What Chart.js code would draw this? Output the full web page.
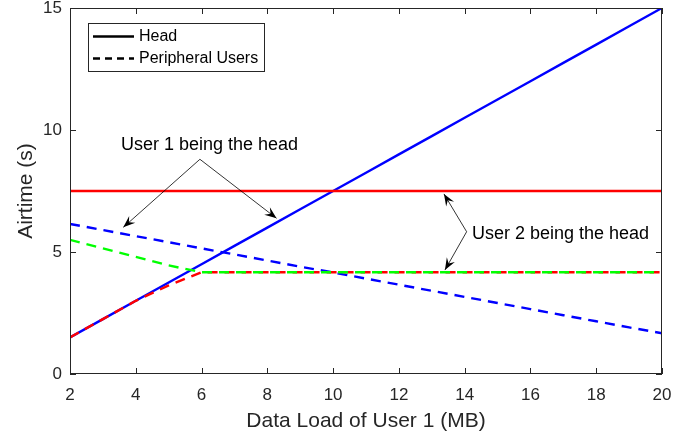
<!DOCTYPE html>
<html>
<head>
<meta charset="utf-8">
<script src="https://cdn.jsdelivr.net/npm/chart.js@4"></script>
<style>
	html, body { margin: 0; padding: 0; background: #fff; }
	#wrap { width: 694px; height: 441px; }
</style>
</head>
<body>
<div id="wrap"><canvas id="airtime-chart" width="694" height="441"></canvas></div>
<script>
// data load of user 1 (MB)
const loads = [2, 3, 4, 5, 6, 7, 8, 9, 10, 11, 12, 13, 14, 15, 16, 17, 18, 19, 20];

// head airtime (solid)
const headUser1 = [1.5, 2.25, 3, 3.75, 4.5, 5.25, 6, 6.75, 7.5, 8.25, 9, 9.75, 10.5, 11.25, 12, 12.75, 13.5, 14.25, 15];
const headUser2 = [7.5, 7.5, 7.5, 7.5, 7.5, 7.5, 7.5, 7.5, 7.5, 7.5, 7.5, 7.5, 7.5, 7.5, 7.5, 7.5, 7.5, 7.5, 7.5];

// peripheral airtime (dashed)
const periphBlue = [6.15, 5.9, 5.65, 5.4, 5.15, 4.9, 4.65, 4.4, 4.16, 3.91, 3.66, 3.41, 3.16, 2.91, 2.66, 2.41, 2.16, 1.91, 1.67];
const periphRed = [1.5, 2.25, 3, 3.63, 4.17, 4.17, 4.17, 4.17, 4.17, 4.17, 4.17, 4.17, 4.17, 4.17, 4.17, 4.17, 4.17, 4.17, 4.17];
const periphGreen = [5.5, 5.15, 4.8, 4.45, 4.17, 4.17, 4.17, 4.17, 4.17, 4.17, 4.17, 4.17, 4.17, 4.17, 4.17, 4.17, 4.17, 4.17, 4.17];

const xTicks = [2, 4, 6, 8, 10, 12, 14, 16, 18, 20];
const yTicks = [0, 5, 10, 15];

const legendLabels = ["Head", "Peripheral Users"];

const colors = {
	axis: "#262626",
	blue: "#0000ff",
	red: "#ff0000",
	green: "#00ff00",
};

const font = "'Liberation Sans', Arial, sans-serif";

// annotations, in data units
const notes = [
	{ text: "User 1 being the head", textAt: [6.24, 9.4], align: "center",
	  from: [5.95, 8.8], tips: [[3.62, 6.01], [8.28, 6.38]] },
	{ text: "User 2 being the head", textAt: [14.22, 5.75], align: "left",
	  from: [14.06, 5.83], tips: [[13.37, 7.38], [13.4, 4.26]] },
];

const toPoints = ys => ys.map((y, i) => ({ x: loads[i], y }));

const drawArrowHead = (ctx, x0, y0, x1, y1) => {
	const ang = Math.atan2(y1 - y0, x1 - x0);
	const len = 12, half = 4.6, back = 7.5;
	ctx.save();
	ctx.translate(x1, y1);
	ctx.rotate(ang);
	ctx.beginPath();
	ctx.moveTo(0, 0);
	ctx.lineTo(-len, -half);
	ctx.lineTo(-back, 0);
	ctx.lineTo(-len, half);
	ctx.closePath();
	ctx.fillStyle = "#000";
	ctx.fill();
	ctx.restore();
};

const matlabFrame = {
	id: "matlabFrame",
	afterDraw(chart) {
		const { ctx, chartArea: a, scales } = chart;
		const x = scales.x, y = scales.y;
		ctx.save();

		// box + inward ticks
		ctx.strokeStyle = colors.axis;
		ctx.lineWidth = 1;
		ctx.strokeRect(a.left + 0.5, a.top + 0.5, a.right - a.left - 1, a.bottom - a.top - 1);
		ctx.beginPath();
		xTicks.forEach(v => {
			const px = Math.round(x.getPixelForValue(v)) + 0.5;
			ctx.moveTo(px, a.bottom); ctx.lineTo(px, a.bottom - 6);
			ctx.moveTo(px, a.top); ctx.lineTo(px, a.top + 6);
		});
		yTicks.forEach(v => {
			const py = Math.round(y.getPixelForValue(v)) + 0.5;
			ctx.moveTo(a.left, py); ctx.lineTo(a.left + 6, py);
			ctx.moveTo(a.right, py); ctx.lineTo(a.right - 6, py);
		});
		ctx.stroke();

		// legend
		const lx = a.left + 18, ly = a.top + 15, lw = 177, lh = 49;
		ctx.fillStyle = "#fff";
		ctx.fillRect(lx, ly, lw, lh);
		ctx.strokeStyle = colors.axis;
		ctx.strokeRect(lx + 0.5, ly + 0.5, lw - 1, lh - 1);
		ctx.strokeStyle = "#000";
		ctx.lineWidth = 2.4;
		ctx.beginPath();
		ctx.moveTo(lx + 5, ly + 13.5); ctx.lineTo(lx + 46, ly + 13.5);
		ctx.stroke();
		ctx.setLineDash([7, 5]);
		ctx.beginPath();
		ctx.moveTo(lx + 5, ly + 35.5); ctx.lineTo(lx + 46, ly + 35.5);
		ctx.stroke();
		ctx.setLineDash([]);
		ctx.fillStyle = "#000";
		ctx.font = "16px " + font;
		ctx.textBaseline = "middle";
		ctx.textAlign = "left";
		ctx.fillText(legendLabels[0], lx + 51, ly + 14);
		ctx.fillText(legendLabels[1], lx + 51, ly + 36);

		// annotations
		ctx.font = "18px " + font;
		notes.forEach(n => {
			const fx = x.getPixelForValue(n.from[0]), fy = y.getPixelForValue(n.from[1]);
			ctx.textAlign = n.align;
			ctx.fillText(n.text, x.getPixelForValue(n.textAt[0]), y.getPixelForValue(n.textAt[1]));
			ctx.strokeStyle = "#000";
			ctx.lineWidth = 0.8;
			n.tips.forEach(t => {
				const tx = x.getPixelForValue(t[0]), ty = y.getPixelForValue(t[1]);
				ctx.beginPath();
				ctx.moveTo(fx, fy); ctx.lineTo(tx, ty);
				ctx.stroke();
				drawArrowHead(ctx, fx, fy, tx, ty);
			});
		});
		ctx.restore();
	},
};

const lineSet = (label, ys, color, dashed, order) => ({
	label,
	data: toPoints(ys),
	borderColor: color,
	borderWidth: 2.4,
	borderDash: dashed ? [10, 7] : [],
	pointRadius: 0,
	tension: 0,
	fill: false,
	order,
});

const noEdgePadding = s => {
	s.paddingTop = 0;
	s.paddingBottom = 0;
	s.paddingLeft = 0;
	s.paddingRight = 0;
};

new Chart(document.getElementById("airtime-chart"), {
	type: "line",
	data: {
		datasets: [
			lineSet("Head, user 1", headUser1, colors.blue, false, 5),
			lineSet("Head, user 2", headUser2, colors.red, false, 4),
			lineSet("Peripheral, blue", periphBlue, colors.blue, true, 3),
			lineSet("Peripheral, red", periphRed, colors.red, true, 2),
			lineSet("Peripheral, green", periphGreen, colors.green, true, 1),
		],
	},
	options: {
		responsive: false,
		animation: false,
		events: [],
		layout: { padding: { top: 8, right: 32, left: 0, bottom: 0 } },
		plugins: { legend: { display: false }, tooltip: { enabled: false } },
		scales: {
			x: {
				type: "linear",
				min: 2,
				max: 20,
				afterFit: s => { s.height = 67; noEdgePadding(s); },
				afterBuildTicks: s => { s.ticks = xTicks.map(v => ({ value: v })); },
				grid: { display: false, drawTicks: false },
				border: { display: false },
				ticks: { color: colors.axis, padding: 11, font: { family: font, size: 17 } },
				title: {
					display: true,
					text: "Data Load of User 1 (MB)",
					color: colors.axis,
					padding: { top: 0, bottom: 7 },
					font: { family: font, size: 21 },
				},
			},
			y: {
				min: 0,
				max: 15,
				afterFit: s => { s.width = 70; noEdgePadding(s); },
				afterBuildTicks: s => { s.ticks = yTicks.map(v => ({ value: v })); },
				grid: { display: false, drawTicks: false },
				border: { display: false },
				ticks: { color: colors.axis, padding: 8, font: { family: font, size: 17 } },
				title: {
					display: true,
					text: "Airtime (s)",
					color: colors.axis,
					padding: { top: 14, bottom: 0 },
					font: { family: font, size: 21 },
				},
			},
		},
	},
	plugins: [matlabFrame],
});
</script>
</body>
</html>
